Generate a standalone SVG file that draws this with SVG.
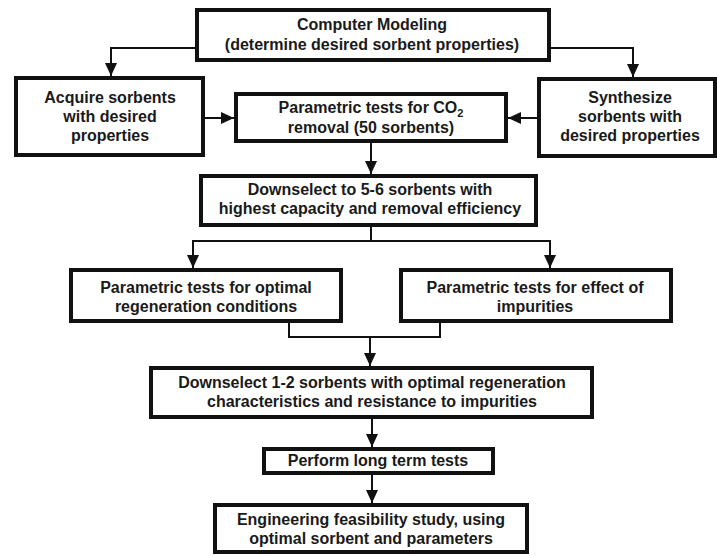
<svg xmlns="http://www.w3.org/2000/svg" width="717" height="556" viewBox="0 0 717 556">
<style>
  .box { fill: #ffffff; stroke: #111111; stroke-width: 4; }
  .t { font-family: "Liberation Sans", Arial, sans-serif; font-weight: bold; font-size: 16px; fill: #1a1a1a; text-anchor: middle; }
  .c { fill: none; stroke: #111111; stroke-width: 2; }
</style>
<defs>
  <marker id="arr" markerUnits="userSpaceOnUse" markerWidth="14" markerHeight="14" viewBox="0 0 14 14" refX="13" refY="7" orient="auto">
    <path d="M0,1 L13,7 L0,13 Z" fill="#111111"/>
  </marker>
</defs>
<rect width="717" height="556" fill="#ffffff"/>

<g id="connectors">
  <path class="c" d="M195,48 H111 V76" marker-end="url(#arr)"/>
  <path class="c" d="M551,48 H633 V77" marker-end="url(#arr)"/>
  <path class="c" d="M205,118 H234" marker-end="url(#arr)"/>
  <path class="c" d="M537,118 H508" marker-end="url(#arr)"/>
  <path class="c" d="M371,143 V174" marker-end="url(#arr)"/>
  <path class="c" d="M371,227 V241"/>
  <path class="c" d="M371,241 H193 V268" marker-end="url(#arr)"/>
  <path class="c" d="M371,241 H550 V268" marker-end="url(#arr)"/>
  <path class="c" d="M289,323 V337 H440 V323"/>
  <path class="c" d="M370,337 V366" marker-end="url(#arr)"/>
  <path class="c" d="M372,419 V447" marker-end="url(#arr)"/>
  <path class="c" d="M372,475 V503" marker-end="url(#arr)"/>
</g>

<g id="computer-modeling">
  <rect class="box" x="197" y="10" width="352" height="50"/>
  <text class="t" x="372" y="30">Computer Modeling</text>
  <text class="t" x="372" y="50">(determine desired sorbent properties)</text>
</g>

<g id="acquire">
  <rect class="box" x="16" y="78" width="187" height="77"/>
  <text class="t" x="110" y="103">Acquire sorbents</text>
  <text class="t" x="110" y="122">with desired</text>
  <text class="t" x="110" y="141">properties</text>
</g>

<g id="parametric-co2">
  <rect class="box" x="236" y="94" width="270" height="47"/>
  <text class="t" x="371" y="113">Parametric tests for CO<tspan font-size="11" dy="4">2</tspan></text>
  <text class="t" x="371" y="133">removal (50 sorbents)</text>
</g>

<g id="synthesize">
  <rect class="box" x="539" y="79" width="176" height="77"/>
  <text class="t" x="630" y="103">Synthesize</text>
  <text class="t" x="630" y="122">sorbents with</text>
  <text class="t" x="630" y="141">desired properties</text>
</g>

<g id="downselect-5-6">
  <rect class="box" x="201" y="176" width="335" height="49"/>
  <text class="t" x="370" y="195">Downselect to 5-6 sorbents with</text>
  <text class="t" x="370" y="214">highest capacity and removal efficiency</text>
</g>

<g id="parametric-regeneration">
  <rect class="box" x="71" y="270" width="270" height="51"/>
  <text class="t" x="206" y="293">Parametric tests for optimal</text>
  <text class="t" x="206" y="312">regeneration conditions</text>
</g>

<g id="parametric-impurities">
  <rect class="box" x="401" y="270" width="270" height="51"/>
  <text class="t" x="535" y="293">Parametric tests for effect of</text>
  <text class="t" x="535" y="312">impurities</text>
</g>

<g id="downselect-1-2">
  <rect class="box" x="151" y="368" width="441" height="49"/>
  <text class="t" x="372" y="388">Downselect 1-2 sorbents with optimal regeneration</text>
  <text class="t" x="372" y="407">characteristics and resistance to impurities</text>
</g>

<g id="long-term">
  <rect class="box" x="264" y="449" width="229" height="24"/>
  <text class="t" x="378" y="466">Perform long term tests</text>
</g>

<g id="engineering">
  <rect class="box" x="215" y="505" width="312" height="47"/>
  <text class="t" x="371" y="525">Engineering feasibility  study, using</text>
  <text class="t" x="371" y="544">optimal sorbent and parameters</text>
</g>
</svg>
